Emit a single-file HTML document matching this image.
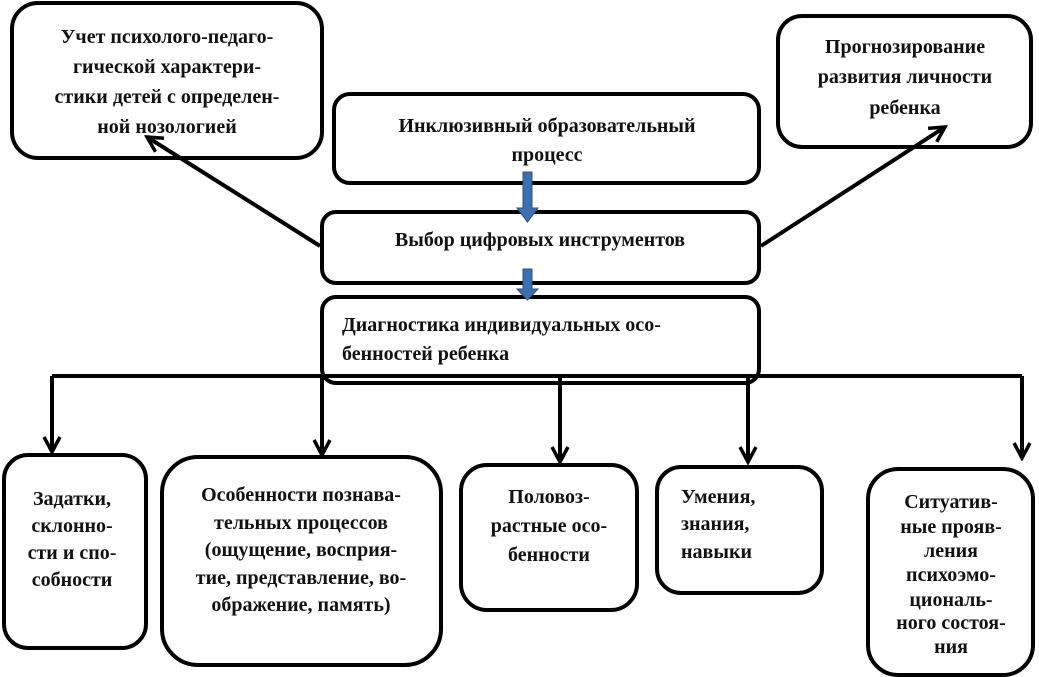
<!DOCTYPE html>
<html><head><meta charset="utf-8"><style>
html,body{margin:0;padding:0;background:#fff}
svg{display:block}
text{font-family:"Liberation Serif","Noto Serif CJK SC",serif;font-weight:bold;font-size:20px;fill:#111}
</style></head><body>
<svg width="1039" height="677" viewBox="0 0 1039 677" xmlns="http://www.w3.org/2000/svg">
<defs>
<marker id="ah" viewBox="0 0 12 12" refX="10" refY="6" markerWidth="12" markerHeight="12" markerUnits="userSpaceOnUse" orient="auto">
<path d="M1,1 L10,6 L1,11" fill="none" stroke="#000" stroke-width="3"/>
</marker>
<marker id="ah2" viewBox="0 0 20 20" refX="17" refY="10" markerWidth="20" markerHeight="20" markerUnits="userSpaceOnUse" orient="auto">
<path d="M2,2 L17,10 L2,18" fill="none" stroke="#000" stroke-width="3.5"/>
</marker>
</defs>
<g fill="none" stroke="#000" stroke-width="4">
<rect x="12" y="3" width="310" height="155" rx="26"/>
<rect x="778" y="16" width="253" height="131" rx="24"/>
<rect x="334" y="94" width="425" height="89" rx="16"/>
<rect x="322" y="212" width="437" height="71" rx="14"/>
<rect x="322" y="297" width="437" height="86" rx="14"/>
<rect x="4" y="455" width="142" height="193" rx="24"/>
<rect x="162" y="457" width="279" height="208" rx="36"/>
<rect x="461" y="465" width="176" height="145" rx="26"/>
<rect x="657" y="467" width="165" height="126" rx="24"/>
<rect x="868" y="469" width="165" height="206" rx="30"/>
</g>
<g stroke="#000" stroke-width="4" fill="none">
<line x1="52" y1="376" x2="1022" y2="376"/>
<line x1="52" y1="376" x2="52" y2="452" marker-end="url(#ah2)"/>
<line x1="322" y1="376" x2="322" y2="455" marker-end="url(#ah2)"/>
<line x1="560" y1="376" x2="560" y2="462" marker-end="url(#ah2)"/>
<line x1="748" y1="376" x2="748" y2="462" marker-end="url(#ah2)"/>
<line x1="1022" y1="376" x2="1022" y2="458" marker-end="url(#ah2)"/>
<line x1="320" y1="246" x2="147" y2="137" marker-end="url(#ah2)"/>
<line x1="761" y1="246" x2="945" y2="127" marker-end="url(#ah2)"/>
</g>
<g fill="#3e6fb0" stroke="#2c4f80" stroke-width="1">
<path d="M523,172 h9 v36 h6 l-10.5,14 l-10.5,-14 h6 z"/>
<path d="M523,269 h9 v20 h6 l-10.5,11 l-10.5,-11 h6 z"/>
</g>
<g text-anchor="middle" dominant-baseline="central">
<text x="167" y="37">Учет психолого-педаго-</text>
<text x="167" y="67">гической характери-</text>
<text x="167" y="97">стики детей с определен-</text>
<text x="167" y="127">ной нозологией</text>
<text x="905" y="47">Прогнозирование</text>
<text x="905" y="77">развития личности</text>
<text x="905" y="108">ребенка</text>
<text x="547" y="126">Инклюзивный образовательный</text>
<text x="547" y="155">процесс</text>
<text x="540" y="240">Выбор цифровых инструментов</text>
<text x="72" y="499">Задатки,</text>
<text x="72" y="526">склонно-</text>
<text x="72" y="553">сти и спо-</text>
<text x="72" y="580">собности</text>
<text x="301" y="495">Особенности познава-</text>
<text x="301" y="523">тельных процессов</text>
<text x="301" y="550">(ощущение, восприя-</text>
<text x="301" y="578">тие, представление, во-</text>
<text x="301" y="605">ображение, память)</text>
<text x="549" y="497">Половоз-</text>
<text x="549" y="526">растные осо-</text>
<text x="549" y="555">бенности</text>
<text x="951" y="502">Ситуатив-</text>
<text x="951" y="527">ные прояв-</text>
<text x="951" y="551">ления</text>
<text x="951" y="575">психоэмо-</text>
<text x="951" y="600">циональ-</text>
<text x="951" y="623">ного состоя-</text>
<text x="951" y="647">ния</text>
</g>
<g dominant-baseline="central">
<text x="342" y="325">Диагностика индивидуальных осо-</text>
<text x="342" y="354">бенностей ребенка</text>
<text x="681" y="497">Умения,</text>
<text x="681" y="524">знания,</text>
<text x="681" y="552">навыки</text>
</g>
</svg>
</body></html>
